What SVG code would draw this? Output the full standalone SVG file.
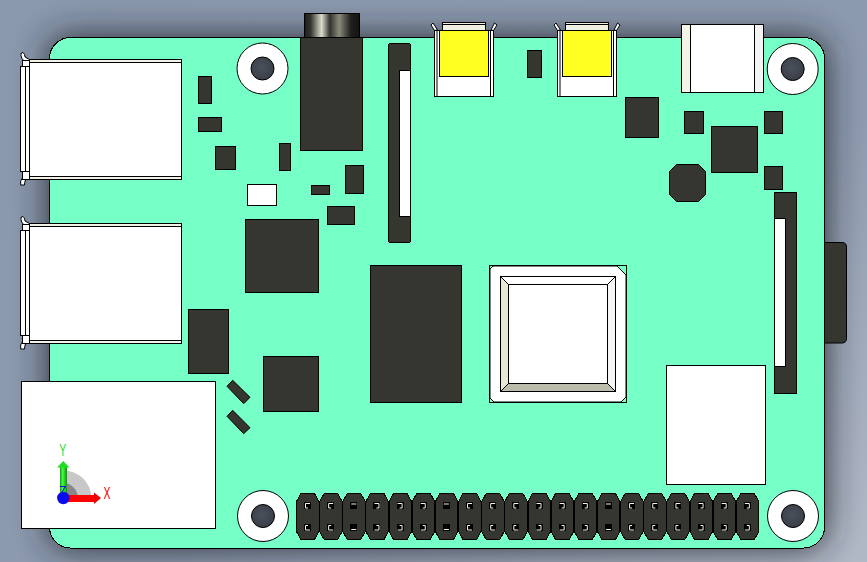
<svg xmlns="http://www.w3.org/2000/svg" xmlns:xlink="http://www.w3.org/1999/xlink" width="867" height="562" viewBox="0 0 867 562">
<style>
.chip{fill:#363630;stroke:#000;stroke-width:1}
.white{fill:#fff;stroke:#000;stroke-width:1}
.ln{fill:none;stroke:#000;stroke-width:1}
.hook{fill:none;stroke:#f4f4e4;stroke-width:1}
.axis{font-family:"Liberation Sans",Arial,sans-serif;font-size:16px}
rect,polygon,.crisp{shape-rendering:crispEdges}
</style>
<defs>
<filter id="blur" x="-20%" y="-20%" width="140%" height="140%"><feGaussianBlur stdDeviation="17"/></filter>
<linearGradient id="bg" x1="0" y1="0" x2="1" y2="1"><stop offset="0" stop-color="#8a98ad"/><stop offset="0.6" stop-color="#8d9aae"/><stop offset="1" stop-color="#b2b9c6"/></linearGradient>
<linearGradient id="jack" x1="0" x2="1" y1="0" y2="0"><stop offset="0" stop-color="#1a1a18"/><stop offset="0.12" stop-color="#33332f"/><stop offset="0.32" stop-color="#dcdccc"/><stop offset="0.47" stop-color="#33332f"/><stop offset="0.64" stop-color="#8a8a7c"/><stop offset="0.85" stop-color="#1f1f1d"/><stop offset="1" stop-color="#141413"/></linearGradient>
<radialGradient id="hole" cx="0.45" cy="0.45" r="0.7"><stop offset="0" stop-color="#4a505c"/><stop offset="1" stop-color="#363a44"/></radialGradient>
<linearGradient id="gy" x1="0" x2="1" y1="0" y2="0"><stop offset="0" stop-color="#109a10"/><stop offset="0.4" stop-color="#44ff44"/><stop offset="1" stop-color="#10a010"/></linearGradient>
<g id="usb">
<path d="M21 55.500Q20.500 52 23 52.500Q25 54 25 57L29.500 59.500V61H24Q21 58 21 55.500Z" fill="#fff" stroke="#000"/>
<path d="M20.700 185V181Q21 178 25 176.500L29.500 176V178L25.500 180Q24.500 182 24.500 185Z" fill="#fff" stroke="#000"/>
<rect class="white" x="20.500" y="66.500" width="5" height="105"/>
<rect class="white" x="25.500" y="66.500" width="3.500" height="105"/>
<rect class="white" x="22.500" y="60.500" width="7" height="6"/>
<rect class="white" x="22.500" y="171.500" width="7" height="7.500"/>
<rect class="white" x="29.500" y="59.500" width="152" height="120"/>
<path d="M30 60H181V62.500H30Z M30 176.500H181V179H30Z" fill="#f2f2e6"/>
<path class="ln" d="M29.500 62.500H181.500M29.500 176.500H181.500"/>
</g>
<g id="ycon">
<path d="M-3 25L-1 23L3.500 30L0.500 30.500Z M60.500 23L63 25L59.500 30.500L57 30Z" fill="#fff" stroke="#000"/>
<rect x="8.500" y="22.500" width="43" height="8" fill="#f0f0e2" stroke="#000"/>
<path class="ln" d="M8.500 24.500H51.500"/>
<rect class="white" x="0.500" y="30.500" width="59" height="66"/>
<path class="ln" d="M3 30.500V96M56.500 30.500V96"/>
<rect x="5.500" y="30.500" width="49" height="46" fill="#ffff22" stroke="#000"/>
</g>
<polygon id="col" class="chip" points="301,493.500 314.500,493.500 319,501.500 319,531.500 314.500,539.500 301,539.500 296.500,531.500 296.500,501.500"/>
<g id="pL"><use xlink:href="#col" href="#col"/><rect x="304" y="502" width="7" height="7" fill="#000"/><path class="hook" d="M310 503.500H305.500V508H308"/><rect x="304" y="524" width="7" height="7" fill="#000"/><path class="hook" d="M308 525.500H305.500V530H310"/></g>
<g id="pR"><use xlink:href="#col" href="#col"/><rect x="304" y="502" width="7" height="7" fill="#000"/><path class="hook" d="M305 503.500H309.500V508H307"/><rect x="304" y="524" width="7" height="7" fill="#000"/><path class="hook" d="M307 525.500H309.500V530H305"/></g>
<g id="pF"><use xlink:href="#col" href="#col"/><rect x="304" y="502" width="7" height="7" fill="#000"/><path class="hook" d="M305 504H310"/><rect x="304" y="524" width="7" height="7" fill="#000"/><path class="hook" d="M305 529.500H310"/></g>
</defs>

<g id="background">
<rect width="867" height="562" fill="url(#bg)"/>
<rect x="49" y="37" width="776" height="511" rx="20" fill="#22262e" opacity="0.95" filter="url(#blur)"/>
</g>

<g id="audio-barrel"><rect x="304" y="13.500" width="55" height="24" fill="url(#jack)" stroke="#000"/></g>
<g id="right-connector"><path class="chip" d="M820 242.500H842Q846.500 242.500 846.500 247V338Q846.500 343 842 343H820Z"/></g>

<g id="board"><rect x="49.500" y="37.500" width="775" height="510.500" rx="21" fill="#77ffc8" stroke="#000"/></g>

<g id="usb-1"><use xlink:href="#usb" href="#usb"/></g>
<g id="usb-2"><use xlink:href="#usb" href="#usb" y="164"/></g>

<g id="hole-tl"><circle class="white" cx="262.500" cy="68.500" r="25.500"/><circle cx="262.500" cy="68.500" r="11.500" fill="url(#hole)" stroke="#000"/></g>
<g id="hole-tr"><circle class="white" cx="792.700" cy="69" r="25.500"/><circle cx="792.700" cy="69" r="11.500" fill="url(#hole)" stroke="#000"/></g>
<g id="hole-bl"><circle class="white" cx="263" cy="516" r="25.500"/><circle cx="263" cy="516" r="11.500" fill="url(#hole)" stroke="#000"/></g>
<g id="hole-br"><circle class="white" cx="793" cy="516" r="25.500"/><circle cx="793" cy="516" r="11.500" fill="url(#hole)" stroke="#000"/></g>

<g id="audio-jack"><rect class="chip" x="300.500" y="37.500" width="62" height="113"/></g>
<g id="fpc-1"><rect class="chip" x="388.500" y="43.500" width="22" height="199" rx="2"/><rect class="white" x="399.500" y="70.500" width="11" height="146"/></g>
<g id="fpc-2"><rect class="chip" x="774.500" y="192.500" width="22" height="201"/><rect class="white" x="774.500" y="218.500" width="10.500" height="147.500"/></g>
<g id="yellow-1"><use xlink:href="#ycon" href="#ycon" x="434"/></g>
<g id="yellow-2"><use xlink:href="#ycon" href="#ycon" x="557"/></g>
<g id="hdmi"><rect class="white" x="681.500" y="24.500" width="82" height="68"/><rect x="682" y="25" width="8.500" height="67" fill="#f3f3e6"/><rect x="755" y="25" width="8" height="67" fill="#f4f4f4"/><path class="ln" d="M690.500 24.500V92.500M754.500 24.500V92.500"/></g>

<g id="c1"><rect class="chip" x="198.500" y="76.500" width="13" height="27"/></g>
<g id="c2"><rect class="chip" x="198.500" y="117.500" width="23" height="14"/></g>
<g id="c3"><rect class="chip" x="215.500" y="146.500" width="20" height="23"/></g>
<g id="c4"><rect class="chip" x="279.500" y="143.500" width="11" height="27"/></g>
<g id="c5"><rect class="white" x="247.500" y="184.500" width="29" height="21"/></g>
<g id="c6"><rect class="chip" x="311.500" y="185.500" width="18" height="9"/></g>
<g id="c7"><rect class="chip" x="345.500" y="165.500" width="18" height="28"/></g>
<g id="c8"><rect class="chip" x="327.500" y="206.500" width="27" height="18"/></g>
<g id="c9"><rect class="chip" x="245.500" y="219.500" width="73" height="73"/></g>
<g id="c10"><rect class="chip" x="188.500" y="309.500" width="40" height="64"/></g>
<g id="c11"><rect class="chip" x="263.500" y="356.500" width="55" height="55"/></g>
<g id="c12"><rect class="chip" x="370.500" y="265.500" width="91" height="137"/></g>
<g id="c13"><rect class="chip" x="527.500" y="50.500" width="14" height="27"/></g>
<g id="c14"><rect class="chip" x="625.500" y="97.500" width="33" height="40"/></g>
<g id="c15"><rect class="chip" x="684.500" y="111.500" width="19" height="22"/></g>
<g id="c16"><rect class="chip" x="764.500" y="111.500" width="18" height="22"/></g>
<g id="c17"><rect class="chip" x="711.500" y="126.500" width="46" height="46"/></g>
<g id="c18"><rect class="chip" x="764.500" y="166.500" width="18" height="23"/></g>
<g id="c19"><polygon class="chip" points="676.500,164.500 698.500,164.500 705.500,171.500 705.500,194.500 698.500,201.500 676.500,201.500 669.500,194.500 669.500,171.500" style="shape-rendering:auto"/></g>
<g id="d1"><polygon class="chip" points="232.700,380.300 250,397.300 243.700,403.700 227,386.300" style="shape-rendering:auto"/></g>
<g id="d2"><polygon class="chip" points="232.700,410.300 250,427.700 243.700,433.700 227,416.300" style="shape-rendering:auto"/></g>

<g id="cpu">
<rect x="489.500" y="265.500" width="137" height="136.500" fill="none" stroke="#000"/>
<path d="M493 266H617L626 275V397L621 402H494L490 398V269Z" fill="#fff" stroke="#000" stroke-width="1"/>
<rect x="500.500" y="276.500" width="115" height="115" fill="#fff" stroke="#000"/>
<polygon points="501,277 508.500,284.500 508.500,383.500 501,391" fill="#e8e8d4"/>
<polygon points="615,277 607.500,284.500 607.500,383.500 615,391" fill="#f5f5f5"/>
<polygon points="501,391 508.500,383.500 607.500,383.500 615,391" fill="#bcbcaa"/>
<path class="ln" d="M500.500 276.500L508.500 284.500M615.500 276.500L607.500 284.500M500.500 391.500L508.500 383.500M615.500 391.500L607.500 383.500"/>
<rect x="508.500" y="284.500" width="99" height="99" fill="#fff" stroke="#000"/>
</g>

<g id="sd-card"><rect class="white" x="666.500" y="365.500" width="99" height="119"/></g>
<g id="sd-white"><rect class="white" x="21.500" y="381.500" width="194" height="147"/></g>

<g id="header">
<use xlink:href="#pL" href="#pL" x="0"/><use xlink:href="#pL" href="#pL" x="23.150"/><use xlink:href="#pF" href="#pF" x="46.300"/><use xlink:href="#pR" href="#pR" x="69.450"/><use xlink:href="#pR" href="#pR" x="92.600"/><use xlink:href="#pR" href="#pR" x="115.750"/><use xlink:href="#pF" href="#pF" x="138.900"/><use xlink:href="#pL" href="#pL" x="162.050"/><use xlink:href="#pL" href="#pL" x="185.200"/><use xlink:href="#pL" href="#pL" x="208.350"/><use xlink:href="#pR" href="#pR" x="231.500"/><use xlink:href="#pR" href="#pR" x="254.650"/><use xlink:href="#pR" href="#pR" x="277.800"/><use xlink:href="#pF" href="#pF" x="300.950"/><use xlink:href="#pL" href="#pL" x="324.100"/><use xlink:href="#pL" href="#pL" x="347.250"/><use xlink:href="#pL" href="#pL" x="370.400"/><use xlink:href="#pR" href="#pR" x="393.550"/><use xlink:href="#pR" href="#pR" x="416.700"/><use xlink:href="#pR" href="#pR" x="439.850"/>
</g>

<g id="triad">
<path d="M63 498V470.500A28 28 0 0 1 91.500 498Z" fill="#c8c8c8"/>
<path d="M63 498V483A15 15 0 0 1 78 498Z" fill="#888"/>
<rect x="60" y="467" width="6.500" height="31" fill="url(#gy)"/>
<polygon points="63.300,461 69.500,467.500 57,467.500" fill="#22dd22" style="shape-rendering:auto"/>
<rect x="63" y="495" width="31" height="6.500" fill="#ff0000"/>
<polygon points="101,498 94,492.500 94,504" fill="#ee0000" style="shape-rendering:auto"/>
<path d="M60 486.500H66M65 487L62 492" stroke="#0000ee" stroke-width="1" fill="none"/>
<circle cx="63.300" cy="498" r="6.200" fill="#0a0aee"/>
<text class="axis" x="62.800" y="456" text-anchor="middle" fill="#22dd22" textLength="7" lengthAdjust="spacingAndGlyphs">Y</text>
<text class="axis" x="107" y="499" text-anchor="middle" fill="#ee0000" textLength="7" lengthAdjust="spacingAndGlyphs">X</text>
</g>
</svg>
